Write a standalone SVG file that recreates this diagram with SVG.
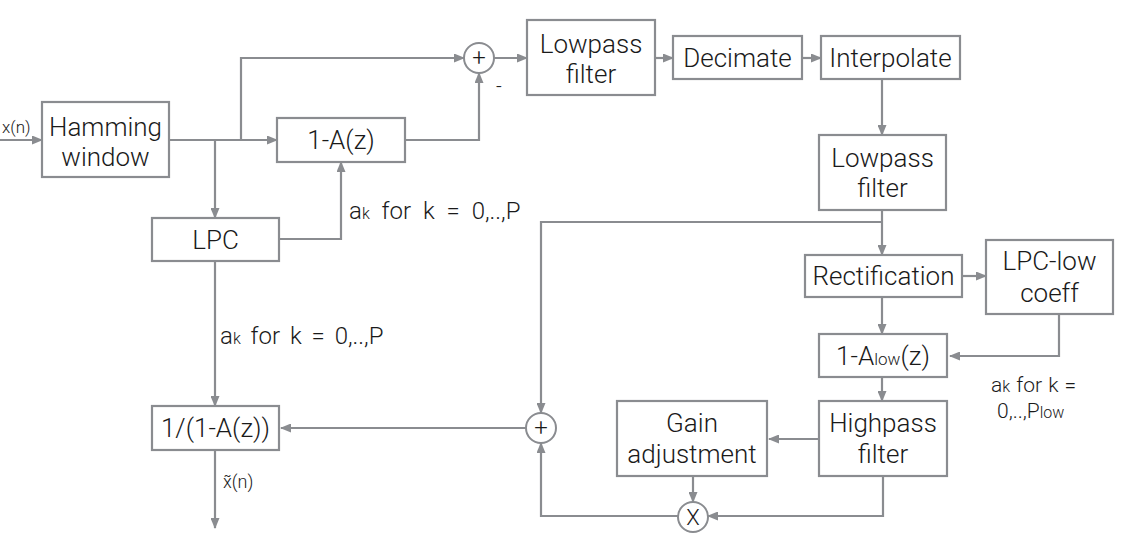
<svg xmlns="http://www.w3.org/2000/svg" width="1123" height="543" viewBox="0 0 1123 543">
<defs>
<marker id="ah" markerUnits="userSpaceOnUse" markerWidth="11" markerHeight="9" refX="10" refY="4.5" orient="auto">
<path d="M0,0 L11,4.5 L0,9 z" fill="#8a8c90"/>
</marker>
<style>
.box{fill:#fff;stroke:#8a8c90;stroke-width:2.2}
.sum{fill:#fff;stroke:#8a8c90;stroke-width:2}
.c{fill:none;stroke:#8a8c90;stroke-width:2.2;marker-end:url(#ah)}
.t{font-family:Roboto,"Liberation Sans",sans-serif;font-weight:300;font-size:26px;fill:#1a1a1a;text-anchor:middle}
.l{font-family:Roboto,"Liberation Sans",sans-serif;font-weight:300;font-size:24px;fill:#1a1a1a}
.s{font-size:16px}
.o{font-family:Roboto,"Liberation Sans",sans-serif;font-weight:300;font-size:24px;fill:#1a1a1a;text-anchor:middle}
</style>
</defs>
<rect width="1123" height="543" fill="#fff"/>
<g id="connectors">
<path class="c" d="M0,140 H42"/>
<path class="c" d="M169,140 H277"/>
<path class="c" d="M241,140 V58 H464"/>
<path class="c" d="M215,140 V218"/>
<path class="c" d="M279,239 H341 V162"/>
<path class="c" d="M405,140 H479 V73"/>
<path class="c" d="M494,58 H527"/>
<path class="c" d="M655,58 H673"/>
<path class="c" d="M802,58 H821"/>
<path class="c" d="M882,79 V135"/>
<path class="c" d="M882,210 V255"/>
<path class="c" d="M882,222 H541 V413"/>
<path class="c" d="M962,276 H986"/>
<path class="c" d="M882,297 V334"/>
<path class="c" d="M1059,314 V356 H950"/>
<path class="c" d="M882,377 V401"/>
<path class="c" d="M819,439 H769"/>
<path class="c" d="M693,476 V502"/>
<path class="c" d="M883,476 V516 H708"/>
<path class="c" d="M678,516 H541 V443"/>
<path class="c" d="M526,428 H281"/>
<path class="c" d="M215,261 V406"/>
<path class="c" d="M215,450 V528"/>
</g>
<g id="labels">
<text class="l" x="2" y="133" style="font-size:17px">x(n)</text>
<text class="l" x="496" y="93" style="font-size:20px">-</text>
<text class="l" x="349" y="219" style="word-spacing:6px">a<tspan class="s">k</tspan> for k = 0,..,P</text>
<text class="l" x="220" y="344" style="word-spacing:4px">a<tspan class="s">k</tspan> for k = 0,..,P</text>
<text class="l" x="223" y="488" style="font-size:18px">x̃(n)</text>
<text class="l" x="991" y="392" style="font-size:21px;word-spacing:1px">a<tspan class="s">k</tspan> for k =</text>
<text class="l" x="997" y="418" style="font-size:21px">0,..,P<tspan class="s">low</tspan></text>
</g>
<g id="hamming"><rect class="box" x="42" y="102" width="127" height="75"/><text class="t" x="105.5" y="136">Hamming</text><text class="t" x="105.5" y="166">window</text></g>
<g id="oneMinusA"><rect class="box" x="277" y="118" width="128" height="44"/><text class="t" x="341" y="149">1-A(z)</text></g>
<g id="lpc"><rect class="box" x="152" y="218" width="127" height="43"/><text class="t" x="215.5" y="249">LPC</text></g>
<g id="synth"><rect class="box" x="152" y="406" width="127" height="44"/><text class="t" x="215.5" y="437">1/(1-A(z))</text></g>
<g id="sum1"><circle class="sum" cx="479" cy="58" r="15"/><text class="o" x="479" y="66">+</text></g>
<g id="lowpass1"><rect class="box" x="527" y="20" width="128" height="75"/><text class="t" x="591" y="53">Lowpass</text><text class="t" x="591" y="83">filter</text></g>
<g id="decimate"><rect class="box" x="673" y="36" width="129" height="43"/><text class="t" x="737.5" y="67">Decimate</text></g>
<g id="interpolate"><rect class="box" x="821" y="36" width="139" height="43"/><text class="t" x="890.5" y="67">Interpolate</text></g>
<g id="lowpass2"><rect class="box" x="819" y="135" width="127" height="75"/><text class="t" x="882.5" y="167">Lowpass</text><text class="t" x="882.5" y="197">filter</text></g>
<g id="rectification"><rect class="box" x="805" y="255" width="157" height="42"/><text class="t" x="883.5" y="285">Rectification</text></g>
<g id="lpclow"><rect class="box" x="986" y="240" width="127" height="74"/><text class="t" x="1049.5" y="270">LPC-low</text><text class="t" x="1049.5" y="302">coeff</text></g>
<g id="oneMinusAlow"><rect class="box" x="819" y="334" width="128" height="43"/><text class="t" x="883" y="365">1-A<tspan style="font-size:17px">low</tspan>(z)</text></g>
<g id="highpass"><rect class="box" x="819" y="401" width="128" height="75"/><text class="t" x="883" y="432">Highpass</text><text class="t" x="883" y="463">filter</text></g>
<g id="gain"><rect class="box" x="617" y="401" width="150" height="75"/><text class="t" x="692" y="432">Gain</text><text class="t" x="692" y="463">adjustment</text></g>
<g id="sum2"><circle class="sum" cx="541" cy="428" r="15"/><text class="o" x="541" y="436">+</text></g>
<g id="mult"><circle class="sum" cx="693" cy="517" r="15"/><text class="o" x="693" y="525" style="font-size:22px">X</text></g>
</svg>
